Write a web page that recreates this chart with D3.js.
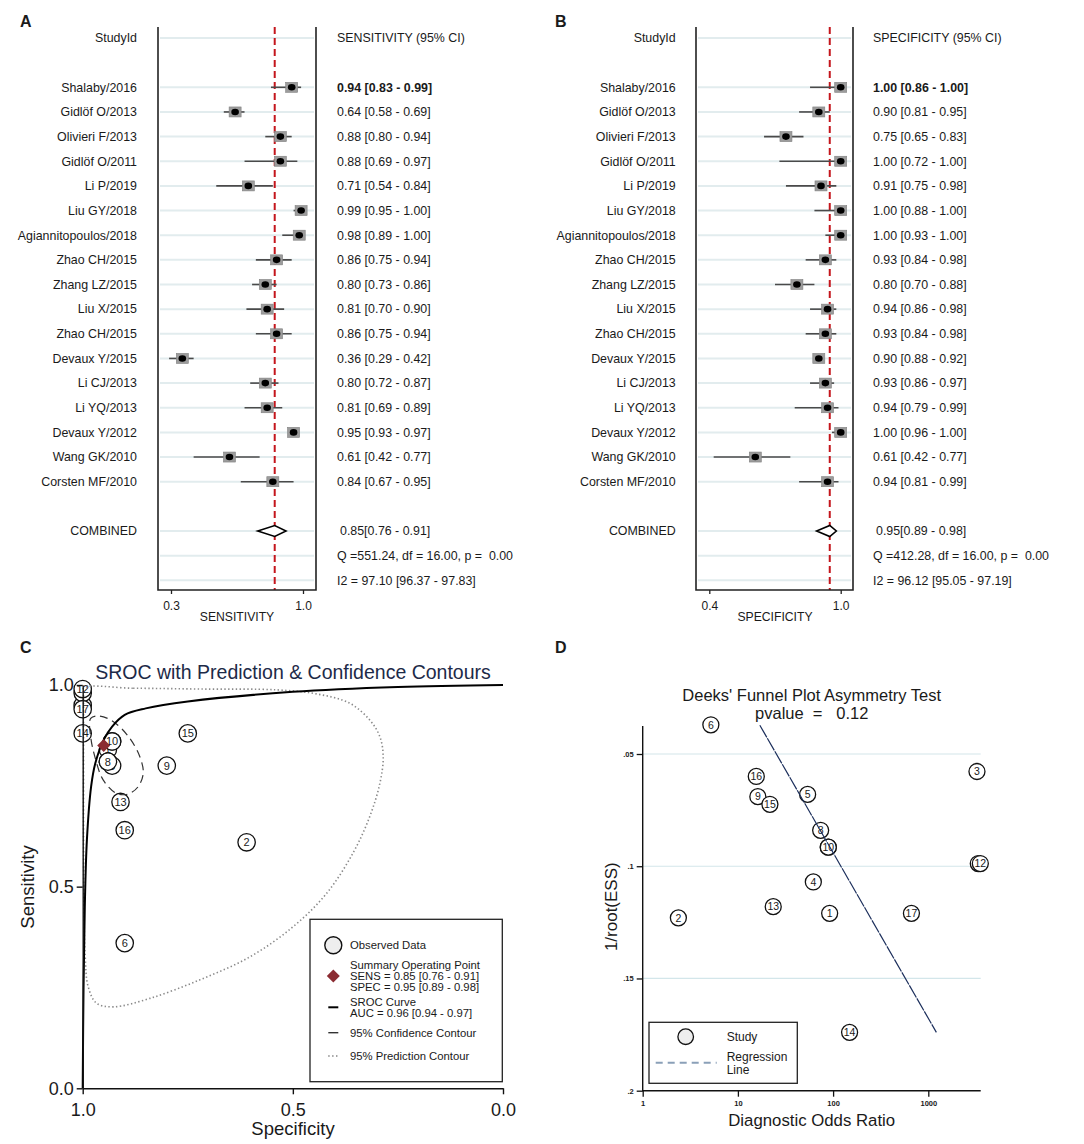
<!DOCTYPE html>
<html>
<head>
<meta charset="utf-8">
<script src="https://d3js.org/d3.v7.min.js"></script>
<style>
body { margin: 0; background: #fff; }
text { font-family: "Liberation Sans", Arial, sans-serif; fill: #1a1a1a; }
</style>
</head>
<body>
<script>
// forest plot data (rows in the order shown)
var studies = ["Shalaby/2016", "Gidlöf O/2013", "Olivieri F/2013", "Gidlöf O/2011", "Li P/2019",
  "Liu GY/2018", "Agiannitopoulos/2018", "Zhao CH/2015", "Zhang LZ/2015", "Liu X/2015",
  "Zhao CH/2015", "Devaux Y/2015", "Li CJ/2013", "Li YQ/2013", "Devaux Y/2012",
  "Wang GK/2010", "Corsten MF/2010"];
var sens   = [0.94, 0.64, 0.88, 0.88, 0.71, 0.99, 0.98, 0.86, 0.80, 0.81, 0.86, 0.36, 0.80, 0.81, 0.95, 0.61, 0.84];
var sensLo = [0.83, 0.58, 0.80, 0.69, 0.54, 0.95, 0.89, 0.75, 0.73, 0.70, 0.75, 0.29, 0.72, 0.69, 0.93, 0.42, 0.67];
var sensHi = [0.99, 0.69, 0.94, 0.97, 0.84, 1.00, 1.00, 0.94, 0.86, 0.90, 0.94, 0.42, 0.87, 0.89, 0.97, 0.77, 0.95];
var spec   = [1.00, 0.90, 0.75, 1.00, 0.91, 1.00, 1.00, 0.93, 0.80, 0.94, 0.93, 0.90, 0.93, 0.94, 1.00, 0.61, 0.94];
var specLo = [0.86, 0.81, 0.65, 0.72, 0.75, 0.88, 0.93, 0.84, 0.70, 0.86, 0.84, 0.88, 0.86, 0.79, 0.96, 0.42, 0.81];
var specHi = [1.00, 0.95, 0.83, 1.00, 0.98, 1.00, 1.00, 0.98, 0.88, 0.98, 0.98, 0.92, 0.97, 0.99, 1.00, 0.77, 0.99];
var pooledSens = [0.85, 0.76, 0.91];
var pooledSpec = [0.95, 0.89, 0.98];

// study numbers used in the SROC and funnel plots (same row order as above)
var studyNo = [17, 16, 15, 14, 13, 12, 11, 10, 9, 8, 7, 6, 5, 4, 3, 2, 1];

// SROC curve and contours, [specificity, sensitivity]
var srocCurve = [[0, 1.0], [0.25, 0.995], [0.5, 0.983], [0.75, 0.959], [0.85, 0.942], [0.9, 0.926],
  [0.93, 0.897], [0.95, 0.864], [0.97, 0.806], [0.98, 0.748], [0.99, 0.616], [0.995, 0.45],
  [0.998, 0.25], [1.0, 0.0]];
var confContour = [[0.981, 0.917], [0.959, 0.923], [0.927, 0.909], [0.891, 0.872], [0.864, 0.822],
  [0.856, 0.781], [0.868, 0.748], [0.891, 0.730], [0.919, 0.731], [0.951, 0.764], [0.971, 0.822],
  [0.981, 0.872]];
var predContour = [[0.998, 0.992], [0.88, 0.992], [0.721, 0.990], [0.539, 0.988], [0.444, 0.978],
  [0.365, 0.955], [0.317, 0.913], [0.293, 0.872], [0.285, 0.822], [0.293, 0.756], [0.317, 0.674],
  [0.357, 0.583], [0.420, 0.483], [0.499, 0.401], [0.602, 0.326], [0.721, 0.269], [0.840, 0.223],
  [0.927, 0.202], [0.967, 0.211], [0.987, 0.252], [0.994, 0.326], [0.997, 0.45], [0.998, 0.616],
  [0.998, 0.781], [0.998, 0.905], [0.998, 0.971]];

// Deeks funnel plot, by study number 1..17
var dorVal = [92, 2.37, 3245, 62, 54, 5.2, 89, 74, 16.2, 89, 3350, 3520, 23.5, 149, 21.7, 15.6, 665];
var invEss = [0.121, 0.123, 0.0578, 0.107, 0.068, 0.037, 0.0915, 0.084, 0.069, 0.0915, 0.0988, 0.0988, 0.118, 0.174, 0.0724, 0.060, 0.121];
var regLine = [[17, 0.0372], [1216, 0.174]];

var svg = d3.select("body").append("svg")
            .attr("width", 1084)
            .attr("height", 1144);

function letter(t, x, y) {
  svg.append("text").attr("x", x).attr("y", y).attr("font-size", 16).attr("font-weight", "bold").text(t);
}

function forest(o) {
  var g = svg.append("g");
  var x = d3.scaleLinear().domain(o.ticks).range(o.tickPx);
  var y = d3.scalePoint().domain(d3.range(23)).range([38, 580.3]);
  var top = 27, bottom = 590;
  var gridRows = [0].concat(d3.range(2, 19), [20, 21, 22]);

  g.selectAll(".grid").data(gridRows).enter().append("line")
   .attr("x1", o.frame[0] + 2).attr("x2", o.frame[1] - 2)
   .attr("y1", function(d) { return y(d); }).attr("y2", function(d) { return y(d); })
   .attr("stroke", "#e2ecee").attr("stroke-width", 2);

  g.append("line")
   .attr("x1", x(o.pooled[0])).attr("x2", x(o.pooled[0]))
   .attr("y1", top).attr("y2", bottom)
   .attr("stroke", "#c4161c").attr("stroke-width", 2).attr("stroke-dasharray", "7,4");

  g.append("path")
   .attr("d", "M" + o.frame[0] + "," + top + "V" + bottom + "H" + o.frame[1] + "V" + top)
   .attr("fill", "none").attr("stroke", "#222").attr("stroke-width", 1.6);

  var ax = g.append("g").attr("transform", "translate(0," + bottom + ")")
   .call(d3.axisBottom(x).tickValues(o.ticks).tickFormat(d3.format(".1f")).tickSize(4).tickPadding(7));
  ax.select(".domain").remove();
  ax.selectAll("line").attr("stroke", "#222").attr("stroke-width", 1.3);
  ax.selectAll("text").attr("font-size", 12).attr("font-family", "Liberation Sans, Arial, sans-serif").attr("fill", "#1a1a1a");

  g.append("text").attr("x", (o.tickPx[0] + o.tickPx[1]) / 2).attr("y", 621)
   .attr("text-anchor", "middle").attr("font-size", 12.2).text(o.title);

  g.append("text").attr("x", o.labelX).attr("y", y(0)).attr("dy", "0.35em")
   .attr("text-anchor", "end").attr("font-size", 12.4).text("StudyId");
  g.append("text").attr("x", o.valX).attr("y", y(0)).attr("dy", "0.35em")
   .attr("font-size", 12.4).text(o.header);

  var rows = g.selectAll(".row").data(studies).enter().append("g");
  rows.append("line")
   .attr("x1", function(d, i) { return x(o.lo[i]); })
   .attr("x2", function(d, i) { return x(o.hi[i]); })
   .attr("y1", function(d, i) { return y(i + 2); })
   .attr("y2", function(d, i) { return y(i + 2); })
   .attr("stroke", "#4a4a4a").attr("stroke-width", 1.6);
  rows.append("rect")
   .attr("x", function(d, i) { return x(o.val[i]) - 6; })
   .attr("y", function(d, i) { return y(i + 2) - 5; })
   .attr("width", 12).attr("height", 10)
   .attr("fill", "#9c9c9c").attr("stroke", "#808080").attr("stroke-width", 0.6);
  rows.append("ellipse")
   .attr("cx", function(d, i) { return x(o.val[i]); })
   .attr("cy", function(d, i) { return y(i + 2); })
   .attr("rx", 3.8).attr("ry", 3.3).attr("fill", "#000");
  rows.append("text")
   .attr("x", o.labelX).attr("y", function(d, i) { return y(i + 2); }).attr("dy", "0.35em")
   .attr("text-anchor", "end").attr("font-size", 12.4)
   .text(function(d) { return d; });
  rows.append("text")
   .attr("x", o.valX).attr("y", function(d, i) { return y(i + 2); }).attr("dy", "0.35em")
   .attr("font-size", 12.4)
   .attr("font-weight", function(d, i) { return i == 0 ? "bold" : "normal"; })
   .text(function(d, i) {
     return o.val[i].toFixed(2) + " [" + o.lo[i].toFixed(2) + " - " + o.hi[i].toFixed(2) + "]";
   });

  var yc = y(20), p = o.pooled;
  g.append("path")
   .attr("d", "M" + x(p[1]) + "," + yc + "L" + x(p[0]) + "," + (yc - 5.5) + "L" + x(p[2]) + "," + yc +
              "L" + x(p[0]) + "," + (yc + 5.5) + "Z")
   .attr("fill", "#fff").attr("stroke", "#000").attr("stroke-width", 1.6);
  g.append("text").attr("x", o.labelX).attr("y", yc).attr("dy", "0.35em")
   .attr("text-anchor", "end").attr("font-size", 12.4).text("COMBINED");
  g.append("text").attr("x", o.valX + 3).attr("y", yc).attr("dy", "0.35em").attr("font-size", 12.4)
   .text(p[0].toFixed(2) + "[" + p[1].toFixed(2) + " - " + p[2].toFixed(2) + "]");
  g.append("text").attr("x", o.valX).attr("y", y(21)).attr("dy", "0.35em").attr("font-size", 12.4)
   .style("white-space", "pre").text(o.qText);
  g.append("text").attr("x", o.valX).attr("y", y(22)).attr("dy", "0.35em").attr("font-size", 12.4)
   .style("white-space", "pre").text(o.i2Text);
}

letter("A", 20, 27);
forest({ ticks: [0.3, 1.0], tickPx: [171, 303], frame: [158, 316], labelX: 137, valX: 337,
  val: sens, lo: sensLo, hi: sensHi, pooled: pooledSens, title: "SENSITIVITY",
  header: "SENSITIVITY (95% CI)", qText: "Q =551.24, df = 16.00, p =  0.00",
  i2Text: "I2 = 97.10 [96.37 - 97.83]" });

letter("B", 555, 27);
forest({ ticks: [0.4, 1.0], tickPx: [709.3, 840.7], frame: [696, 853], labelX: 675.7, valX: 873,
  val: spec, lo: specLo, hi: specHi, pooled: pooledSpec, title: "SPECIFICITY",
  header: "SPECIFICITY (95% CI)", qText: "Q =412.28, df = 16.00, p =  0.00",
  i2Text: "I2 = 96.12 [95.05 - 97.19]" });

// ---- C: SROC
letter("C", 20, 653);
var xC = d3.scaleLinear().domain([1, 0]).range([82.7, 503]);
var yC = d3.scaleLinear().domain([0, 1]).range([1088.3, 685]);
var gC = svg.append("g");

gC.append("text").attr("x", 293).attr("y", 679).attr("text-anchor", "middle")
  .attr("font-size", 19.5).style("fill", "#1d2a48").text("SROC with Prediction & Confidence Contours");

var pts = studies.map(function(d, i) { return { no: studyNo[i], se: sens[i], sp: spec[i] }; })
                 .sort(function(a, b) { return a.no - b.no; });
var cg = gC.selectAll(".pt").data(pts).enter().append("g")
  .attr("transform", function(d) { return "translate(" + xC(d.sp) + "," + yC(d.se) + ")"; });
cg.append("circle").attr("r", 8.7).attr("fill", "#fff").attr("stroke", "#111").attr("stroke-width", 1.3);
cg.append("text").attr("text-anchor", "middle").attr("dy", "0.36em").attr("font-size", 11)
  .text(function(d) { return d.no; });

var lineC = d3.line().x(function(d) { return xC(d[0]); }).y(function(d) { return yC(d[1]); });
gC.append("path").datum(predContour).attr("d", lineC.curve(d3.curveCatmullRomClosed.alpha(0.5)))
  .attr("fill", "none").attr("stroke", "#8a8a8a").attr("stroke-width", 1.6).attr("stroke-dasharray", "1.4,2.4");
gC.append("path").datum(confContour).attr("d", lineC.curve(d3.curveCatmullRomClosed.alpha(0.5)))
  .attr("fill", "none").attr("stroke", "#333").attr("stroke-width", 1.2).attr("stroke-dasharray", "8,5");
gC.append("path").datum(srocCurve).attr("d", lineC.curve(d3.curveCatmullRom.alpha(0.5)))
  .attr("fill", "none").attr("stroke", "#000").attr("stroke-width", 2);

gC.append("path")
  .attr("d", "M" + xC(pooledSpec[0]) + "," + (yC(pooledSens[0]) - 6.5) + "l6.5,6.5l-6.5,6.5l-6.5,-6.5z")
  .attr("fill", "#8b2b32");

var axL = gC.append("g").attr("transform", "translate(82.7,0)")
  .call(d3.axisLeft(yC).tickValues([0, 0.5, 1]).tickFormat(d3.format(".1f")).tickSize(6).tickSizeOuter(0).tickPadding(3));
var axB = gC.append("g").attr("transform", "translate(0,1088.3)")
  .call(d3.axisBottom(xC).tickValues([1, 0.5, 0]).tickFormat(d3.format(".1f")).tickSize(6).tickSizeOuter(0).tickPadding(9));
[axL, axB].forEach(function(a) {
  a.select(".domain").attr("stroke", "#111").attr("stroke-width", 1.4);
  a.selectAll("line").attr("stroke", "#111").attr("stroke-width", 1.4);
  a.selectAll("text").attr("font-size", 18).attr("font-family", "Liberation Sans, Arial, sans-serif").attr("fill", "#1a1a1a");
});
gC.append("text").attr("x", 293).attr("y", 1135).attr("text-anchor", "middle").attr("font-size", 18.5).text("Specificity");
gC.append("text").attr("transform", "translate(34,887) rotate(-90)").attr("text-anchor", "middle")
  .attr("font-size", 18.5).text("Sensitivity");

// legend C
var lg = gC.append("g");
lg.append("rect").attr("x", 310).attr("y", 919.3).attr("width", 192.3).attr("height", 162.4)
  .attr("fill", "#fff").attr("stroke", "#222").attr("stroke-width", 1.3);
lg.append("circle").attr("cx", 333.3).attr("cy", 945.3).attr("r", 8.5).attr("fill", "#eee").attr("stroke", "#111").attr("stroke-width", 1.4);
lg.append("path").attr("d", "M333.3,969.5l6.5,6.5l-6.5,6.5l-6.5,-6.5z").attr("fill", "#8b2b32");
lg.append("line").attr("x1", 328.3).attr("x2", 338.3).attr("y1", 1007.3).attr("y2", 1007.3).attr("stroke", "#000").attr("stroke-width", 2);
lg.append("line").attr("x1", 328.3).attr("x2", 338.3).attr("y1", 1032.7).attr("y2", 1032.7).attr("stroke", "#333").attr("stroke-width", 1.4);
lg.append("line").attr("x1", 328.3).attr("x2", 340).attr("y1", 1056).attr("y2", 1056).attr("stroke", "#777")
  .attr("stroke-width", 1.4).attr("stroke-dasharray", "1.3,2.6");
var legC = [["Observed Data", 945.3], ["Summary Operating Point", 965], ["SENS = 0.85 [0.76 - 0.91]", 975.7],
  ["SPEC = 0.95 [0.89 - 0.98]", 986.7], ["SROC Curve", 1002.3], ["AUC = 0.96 [0.94 - 0.97]", 1012.7],
  ["95% Confidence Contour", 1032.7], ["95% Prediction Contour", 1056]];
lg.selectAll(".lt").data(legC).enter().append("text")
  .attr("x", 350).attr("y", function(d) { return d[1]; }).attr("dy", "0.35em").attr("font-size", 11.3)
  .text(function(d) { return d[0]; });

// ---- D: Deeks funnel
letter("D", 555, 653);
var xD = d3.scaleLog().domain([1, 1000]).range([642.7, 928.3]);
var yD = d3.scaleLinear().domain([0.05, 0.2]).range([754, 1090.7]);
var gD = svg.append("g");

gD.selectAll(".grid").data([0.05, 0.1, 0.15]).enter().append("line")
  .attr("x1", 642.7).attr("x2", 980.7)
  .attr("y1", function(d) { return yD(d); }).attr("y2", function(d) { return yD(d); })
  .attr("stroke", "#d3e6ea").attr("stroke-width", 1.2);

gD.append("text").attr("x", 811.7).attr("y", 701).attr("text-anchor", "middle").attr("font-size", 16.5)
  .text("Deeks' Funnel Plot Asymmetry Test");
gD.append("text").attr("x", 811.7).attr("y", 719).attr("text-anchor", "middle").attr("font-size", 16.5)
  .style("white-space", "pre").text("pvalue  =   0.12");

var dpts = dorVal.map(function(d, i) { return { no: i + 1, dor: d, e: invEss[i] }; });
var dg = gD.selectAll(".pt").data(dpts).enter().append("g")
  .attr("transform", function(d) { return "translate(" + xD(d.dor) + "," + yD(d.e) + ")"; });
dg.append("circle").attr("r", 8).attr("fill", "#fff").attr("stroke", "#111").attr("stroke-width", 1.3);
dg.append("text").attr("text-anchor", "middle").attr("dy", "0.36em").attr("font-size", 10.5)
  .text(function(d) { return d.no; });

gD.append("path").datum(regLine)
  .attr("d", d3.line().x(function(d) { return xD(d[0]); }).y(function(d) { return yD(d[1]); }))
  .attr("stroke", "#1c2f5c").attr("stroke-width", 1.2).attr("stroke-dasharray", "14,1");

gD.append("path").attr("d", "M642.7,726V1090.7H980.7").attr("fill", "none").attr("stroke", "#111").attr("stroke-width", 1.4);
var axDL = gD.append("g").attr("transform", "translate(642.7,0)")
  .call(d3.axisLeft(yD).tickValues([0.05, 0.1, 0.15, 0.2]).tickSize(6).tickPadding(3)
    .tickFormat(function(d) { return String(d).replace(/^0/, ""); }));
var axDB = gD.append("g").attr("transform", "translate(0,1090.7)")
  .call(d3.axisBottom(xD).tickValues([1, 10, 100, 1000]).tickSize(6).tickPadding(4).tickFormat(d3.format("d")));
[axDL, axDB].forEach(function(a) {
  a.select(".domain").remove();
  a.selectAll("line").attr("stroke", "#111").attr("stroke-width", 1.3);
  a.selectAll("text").attr("font-size", 7.5).attr("font-weight", "bold")
   .attr("font-family", "Liberation Sans, Arial, sans-serif").attr("fill", "#333");
});
gD.append("text").attr("x", 811.7).attr("y", 1126).attr("text-anchor", "middle").attr("font-size", 16.8)
  .text("Diagnostic Odds Ratio");
gD.append("text").attr("transform", "translate(617,906.7) rotate(-90)").attr("text-anchor", "middle")
  .attr("font-size", 17).text("1/root(ESS)");

var lgD = gD.append("g");
lgD.append("rect").attr("x", 649).attr("y", 1022.3).attr("width", 148.3).attr("height", 61)
  .attr("fill", "#fff").attr("stroke", "#222").attr("stroke-width", 1.3);
lgD.append("circle").attr("cx", 685.7).attr("cy", 1036.7).attr("r", 7.8).attr("fill", "#eee").attr("stroke", "#111").attr("stroke-width", 1.3);
lgD.append("line").attr("x1", 655.7).attr("x2", 716.7).attr("y1", 1062.7).attr("y2", 1062.7)
  .attr("stroke", "#8aa0b8").attr("stroke-width", 2).attr("stroke-dasharray", "7,5");
var legD = [["Study", 1036.7], ["Regression", 1057], ["Line", 1070]];
lgD.selectAll(".lt").data(legD).enter().append("text")
  .attr("x", 726.7).attr("y", function(d) { return d[1]; }).attr("dy", "0.35em").attr("font-size", 12)
  .text(function(d) { return d[0]; });
</script>
</body>
</html>
